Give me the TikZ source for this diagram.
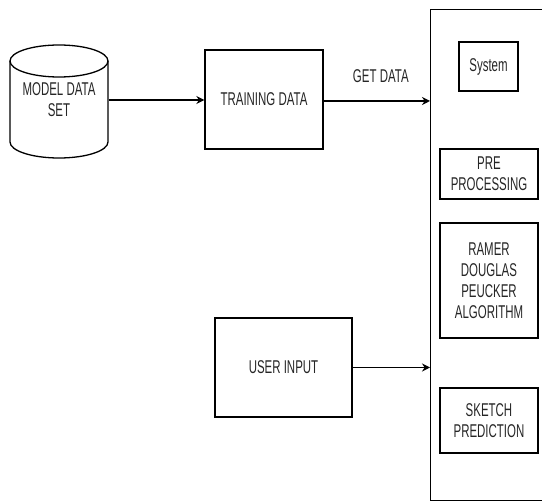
\documentclass[tikz,border=0pt]{standalone}
\usepackage{fontspec}
\setmainfont{Liberation Sans}[FakeStretch=0.62]
\usetikzlibrary{arrows.meta,calc}
\begin{document}
\begin{tikzpicture}[x=1pt,y=-1pt,
  line width=1.3pt,
  every node/.style={font=\fontsize{18.5}{21}\selectfont, text=black!85, align=center, inner sep=0pt},
  box/.style={draw, rectangle},
  arr/.style={-{Stealth[length=8pt,width=8pt]}}]
\useasboundingbox (0,0) rectangle (542,502);
\clip (0,0) rectangle (542,502);
% cylinder
\draw (59,61) ellipse [x radius=49, y radius=16];
\draw (10,61) -- (10,142) arc[start angle=180, end angle=0, x radius=49, y radius=16] -- (108,61);
\node (mds) [minimum width=98pt, minimum height=113pt] at (59,100) {MODEL DATA\\SET};
% boxes
\node (train) [box, minimum width=118pt, minimum height=99pt] at (264,99.5) {TRAINING DATA};
\node (user) [box, minimum width=137pt, minimum height=99pt] at (283.5,367.5) {USER INPUT};
\node (frame) [box, minimum width=160pt, minimum height=491pt, anchor=north west] at (430,9) {};
\node (sys) [box, minimum width=59pt, minimum height=49pt] at (488.5,66.5) {System};
\node (pre) [box, minimum width=98pt, minimum height=50pt] at (489,174) {PRE\\PROCESSING};
\node (rdp) [box, minimum width=98pt, minimum height=115pt] at (489,280.5) {RAMER\\DOUGLAS\\PEUCKER\\ALGORITHM};
\node (sk) [box, minimum width=98pt, minimum height=65pt] at (489,420.5) {SKETCH\\PREDICTION};
% connectors
\draw[arr] (mds.east) -- (mds.east -| train.west);
\draw[arr] ($(train.east)+(0,1.5)$) -- ($(train.east -| frame.west)+(0,1.5)$)
  node[pos=0.5, above=18pt, xshift=4pt] (getdata) {GET DATA};
\draw[arr] (user.east) -- (user.east -| frame.west);
\end{tikzpicture}
\end{document}
